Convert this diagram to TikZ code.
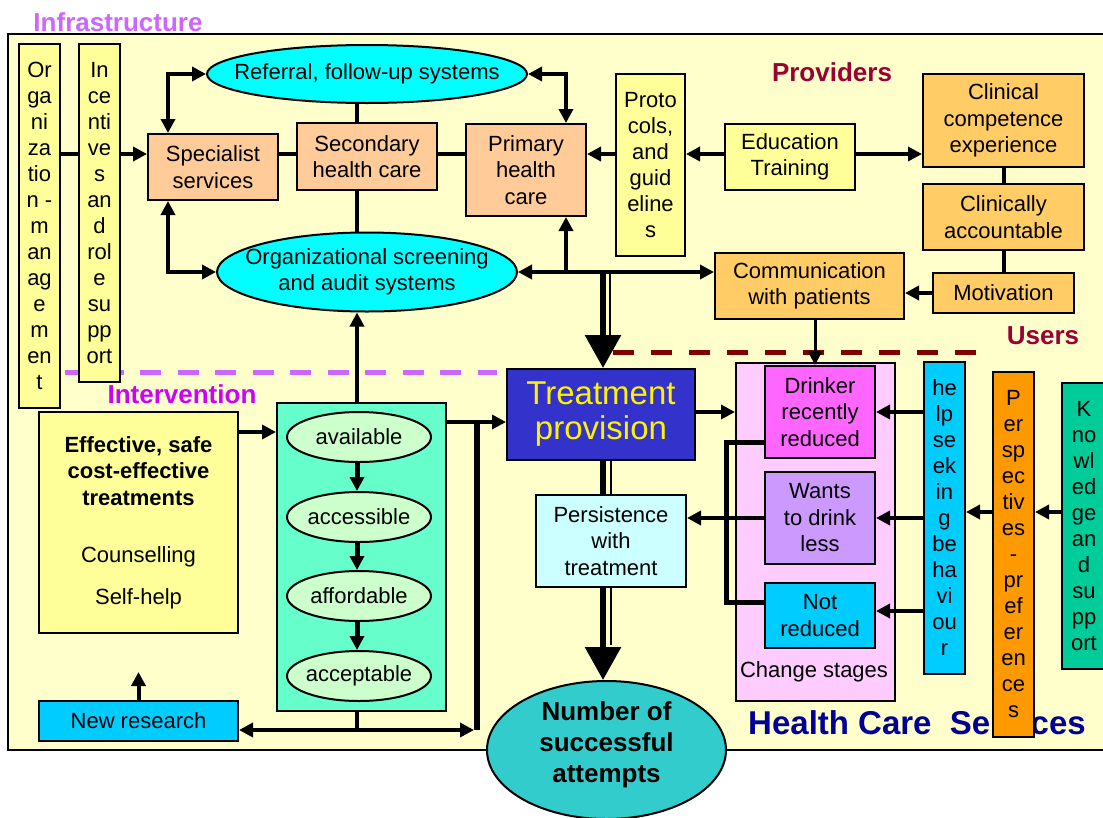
\documentclass[tikz,border=0pt]{standalone}
\usepackage{fontspec}
\setmainfont{Liberation Sans}
\usetikzlibrary{arrows.meta,shapes.geometric}
\newcommand\myfs[2]{\fontsize{#1}{#2}\selectfont}
\definecolor{bgY}{HTML}{FFFFCC}
\definecolor{yelBox}{HTML}{FFFF99}
\definecolor{peach}{HTML}{FFCC99}
\definecolor{orng}{HTML}{FFCC66}
\definecolor{cyanE}{HTML}{00FFFF}
\definecolor{tpBlue}{HTML}{3333CC}
\definecolor{persC}{HTML}{CCFFFF}
\definecolor{numC}{HTML}{33CCCC}
\definecolor{contG}{HTML}{66FFCC}
\definecolor{ellG}{HTML}{CCFFCC}
\definecolor{skyB}{HTML}{00CCFF}
\definecolor{csPink}{HTML}{FFCCFF}
\definecolor{magB}{HTML}{FF66FF}
\definecolor{lavB}{HTML}{CC99FF}
\definecolor{orangeB}{HTML}{FF9900}
\definecolor{knowG}{HTML}{00CC99}
\definecolor{infraC}{HTML}{CC66FF}
\definecolor{interC}{HTML}{CC00FF}
\definecolor{provC}{HTML}{990033}
\definecolor{hcsC}{HTML}{000099}
\definecolor{maroonD}{HTML}{800000}
\begin{document}
\begin{tikzpicture}[x=1pt,y=-1pt,
  >={Triangle[length=14pt,width=14pt]},
  box/.style={draw=black,line width=2pt,align=center,inner sep=0pt,font=\myfs{22}{26.5}},
  vbox/.style={box,font=\myfs{22}{26}},
  oval/.style={ellipse,draw=black,line width=2pt,inner sep=0pt},
  otext/.style={align=center,inner sep=0pt,font=\myfs{22}{26.5}},
  conn/.style={line width=4pt},
  thick conn/.style={line width=5pt},
  lbl/.style={font=\bfseries\myfs{26}{30}},
  bigtip/.style={-{Triangle[length=33pt,width=35pt]}},
]
\useasboundingbox (0,0) rectangle (1103,817);
% background frame
\draw[fill=bgY,line width=2pt] (8,34) rectangle (1120,750);
% dashed separators
\draw[infraC,line width=5pt,dash pattern=on 21pt off 16.5pt] (65,372) -- (497,372);
\draw[maroonD,line width=5pt,dash pattern=on 21pt off 17pt] (613,352) -- (992,352);
% region labels
\node[lbl,text=infraC] (linfra) at (118,22) {Infrastructure};
\node[lbl,text=provC] (lprov) at (832,72) {Providers};
\node[lbl,text=provC] (lusers) at (1043,336) {Users};
\node[lbl,text=interC] (linter) at (182,394) {Intervention};
\node[font=\bfseries\myfs{33}{36},text=hcsC] (lhcs) at (917,723) {Health Care\ \ Services};

% infrastructure
\node[vbox,fill=yelBox,minimum width=41pt,minimum height=364pt] (org) at (39.5,226)
  {Or\\ga\\ni\\za\\tio\\n -\\m\\an\\ag\\e\\m\\en\\t};
\node[vbox,fill=yelBox,minimum width=41pt,minimum height=338pt] (inc) at (99.5,213)
  {In\\ce\\nti\\ve\\s\\an\\d\\rol\\e\\su\\pp\\ort};
\node[box,fill=peach,minimum width=130pt,minimum height=66pt] (spec) at (213,167) {Specialist\\services};
\node[box,fill=peach,minimum width=140pt,minimum height=67pt] (sec) at (367,156.5) {Secondary\\health care};
\node[box,fill=peach,minimum width=120pt,minimum height=92pt] (prim) at (526,170) {Primary\\health\\care};
\node[oval,fill=cyanE,minimum width=320pt,minimum height=58pt,
  label={[otext]center:Referral, follow-up systems}] (ref) at (367,74) {};
\node[oval,fill=cyanE,minimum width=300pt,minimum height=79pt,
  label={[otext]center:Organizational screening\\and audit systems}] (scr) at (367,272) {};

% providers
\node[vbox,fill=yelBox,minimum width=69pt,minimum height=182pt] (prot) at (650.5,165)
  {Proto\\cols,\\and\\guid\\eline\\s};
\node[box,fill=yelBox,minimum width=130pt,minimum height=66pt] (edu) at (790,157) {Education\\Training};
\node[box,fill=orng,minimum width=161pt,minimum height=93pt] (clin) at (1003.5,120.5) {Clinical\\competence\\experience};
\node[box,fill=orng,minimum width=161pt,minimum height=66pt] (acc) at (1003.5,217) {Clinically\\accountable};
\node[box,fill=orng,minimum width=141pt,minimum height=40pt] (mot) at (1003.5,293) {Motivation};
\node[box,fill=orng,minimum width=189pt,minimum height=66pt] (comm) at (809.5,286) {Communication\\with patients};

% intervention
\node[box,fill=yelBox,minimum width=199pt,minimum height=221pt] (eff) at (138.5,522.5)
  {\textbf{Effective, safe}\\\textbf{cost-effective}\\\textbf{treatments}\\[31pt]Counselling\\[15pt]Self-help};
\node[box,fill=contG,minimum width=169pt,minimum height=308pt] (cont) at (361.5,557) {};
\node[oval,fill=ellG,minimum width=144pt,minimum height=50pt,label={[otext]center:available}] (avail) at (359,437) {};
\node[oval,fill=ellG,minimum width=144pt,minimum height=50pt,label={[otext]center:accessible}] (acces) at (359,517) {};
\node[oval,fill=ellG,minimum width=144pt,minimum height=50pt,label={[otext]center:affordable}] (afford) at (359,596) {};
\node[oval,fill=ellG,minimum width=144pt,minimum height=50pt,label={[otext]center:acceptable}] (accept) at (359,676) {};
\node[box,fill=skyB,minimum width=199pt,minimum height=40pt] (nr) at (138.5,721) {New research};

% treatment
\node[box,fill=tpBlue,text=yellow,font=\myfs{33}{39},minimum width=188pt,minimum height=91pt] (tp) at (601,414.5) {\raisebox{-4pt}{Treatment}\\provision};
\node[box,fill=persC,minimum width=150pt,minimum height=92pt] (pers) at (611,541) {Persistence\\with\\treatment};
\node[oval,fill=numC,minimum width=239pt,minimum height=138pt,
  label={[otext,font=\bfseries\myfs{26}{31},yshift=5pt]center:Number of\\successful\\attempts}] (num) at (606.5,750) {};

% users
\node[box,fill=csPink,minimum width=159pt,minimum height=338pt] (cs) at (815.5,532) {};
\node[font=\myfs{22}{26}] (cslbl) at (814,672) {Change stages};
\node[box,fill=magB,minimum width=110pt,minimum height=92pt] (drink) at (820,412) {Drinker\\recently\\reduced};
\node[box,fill=lavB,minimum width=110pt,minimum height=92pt] (wants) at (820,518) {Wants\\to drink\\less};
\node[box,fill=skyB,minimum width=110pt,minimum height=65pt] (notr) at (820,615.5) {Not\\reduced};
\node[vbox,fill=skyB,minimum width=41pt,minimum height=312pt] (help) at (944.5,518)
  {he\\lp\\se\\ek\\in\\g\\be\\ha\\vi\\ou\\r};
\node[vbox,fill=orangeB,minimum width=41pt,minimum height=365pt] (persp) at (1013.5,554.5)
  {P\\er\\sp\\ec\\tiv\\es\\-\\pr\\ef\\er\\en\\ce\\s};
\node[vbox,fill=knowG,minimum width=44pt,minimum height=286pt] (know) at (1084,526)
  {K\\no\\wl\\ed\\ge\\an\\d\\su\\pp\\ort};

% helper coordinates
\coordinate (yA) at (0,154);
\coordinate (sx) at (168,0);
\coordinate (px) at (566,0);
\coordinate (lx) at (357,0);
\coordinate (dx) at (603,0);
\coordinate (cx) at (815,0);
\coordinate (vx) at (477,0);
\coordinate (bx) at (726,0);
\coordinate (yB) at (0,432);
\coordinate (yC) at (0,422);
\coordinate (yD) at (0,730);
\coordinate (yE) at (0,412);
\coordinate (yF) at (0,442);
\coordinate (yG) at (0,602);
\coordinate (yI) at (0,512);
\coordinate (yN) at (0,672);

% infrastructure connectors
\draw[conn] (org.east |- yA) -- (inc.west |- yA);
\draw[conn,->] (inc.east |- yA) -- (spec.west |- yA);
\draw[conn] (spec.east |- yA) -- (sec.west |- yA);
\draw[conn] (sec.east |- yA) -- (prim.west |- yA);
\draw[conn] (lx |- sec.north) -- (lx |- ref.south);
\draw[conn] (lx |- sec.south) -- (lx |- scr.north);
\draw[conn,<->] (ref.west) -| (sx |- spec.north);
\draw[conn,<->] (sx |- spec.south) |- (scr.west);
\draw[conn,<->] (ref.east) -| (px |- prim.north);
\draw[conn,<->] (scr.east) -- (comm.west |- scr.east);
\draw[conn,->] (px |- scr.east) -- (px |- prim.south);

% providers connectors
\draw[conn,->] (prot.west |- yA) -- (prim.east |- yA);
\draw[conn,->] (edu.west |- yA) -- (prot.east |- yA);
\draw[conn,->] (edu.east |- yA) -- (clin.west |- yA);
\draw[conn] (clin.south) -- (acc.north);
\draw[conn] (acc.south) -- (mot.north);
\draw[conn,->] (mot.west) -- (comm.east |- mot.west);
\draw[line width=3pt,->] (cx |- comm.south) -- (cx |- drink.north);

% double arrows through treatment
\draw[line width=6pt,bigtip] (dx |- scr.east) -- (dx |- tp.north);
\draw[line width=2pt] ([xshift=7pt]dx |- scr.east) -- ([xshift=7pt]dx |- 0,337);
\draw[line width=6pt] (dx |- tp.south) -- (dx |- pers.north);
\draw[line width=2pt] ([xshift=8pt]dx |- tp.south) -- ([xshift=8pt]dx |- pers.north);
\draw[line width=6pt,bigtip] (dx |- pers.south) -- (dx |- num.north);
\draw[line width=2pt] ([xshift=8pt]dx |- pers.south) -- ([xshift=8pt]dx |- 0,645);

% intervention connectors
\draw[conn,->] (eff.east |- yB) -- (cont.west |- yB);
\draw[conn,->] (lx |- cont.north) -- (lx |- scr.south);
\draw[thick conn,->] (lx |- avail.south) -- (lx |- acces.north);
\draw[thick conn,->] (lx |- acces.south) -- (lx |- afford.north);
\draw[thick conn,->] (lx |- afford.south) -- (lx |- accept.north);
\draw[conn,->] (cont.east |- yC) -- (tp.west |- yC);
\draw[line width=6pt] (vx |- yC) -- (vx |- yD);
\draw[conn] (lx |- cont.south) -- (lx |- yD);
\draw[conn,->] (lx |- yD) -- (nr.east |- yD);
\draw[conn,->] (lx |- yD) -- ([xshift=-3pt]vx |- yD);
\draw[conn,->] (nr.north) -- (nr.north |- yN);

% users connectors
\draw[conn,->] (tp.east |- yE) -- (cs.west |- yE);
\draw[thick conn] (drink.west |- yF) -| (bx |- yG) -- (notr.west |- yG);
\draw[conn,->] (wants.west) -- (pers.east |- wants.west);
\draw[conn,->] (help.west |- drink.east) -- (drink.east);
\draw[conn,->] (help.west |- wants.east) -- (wants.east);
\draw[conn,->] (help.west |- 0,611) -- (notr.east |- 0,611);
\draw[conn,->] (persp.west |- yI) -- (help.east |- yI);
\draw[conn,->] (know.west |- yI) -- (persp.east |- yI);
\end{tikzpicture}
\end{document}
